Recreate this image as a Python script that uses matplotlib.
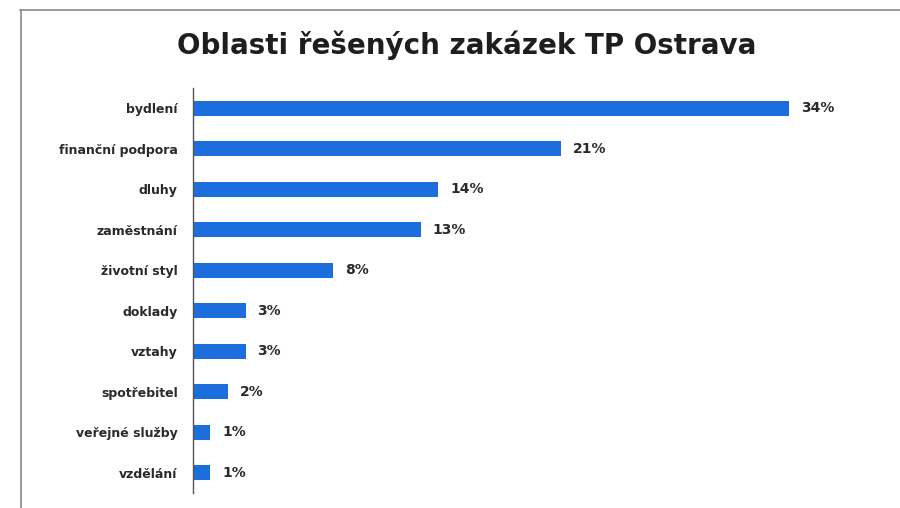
import matplotlib
matplotlib.use("Agg")
import matplotlib.pyplot as plt
from matplotlib.lines import Line2D

# data
categories = ['bydlení', 'finanční podpora', 'dluhy', 'zaměstnání', 'životní styl',
              'doklady', 'vztahy', 'spotřebitel', 'veřejné služby', 'vzdělání']
values = [34, 21, 14, 13, 8, 3, 3, 2, 1, 1]
value_labels = [f'{v}%' for v in values]

bar_color = '#1c6edc'
text_color = '#2a2a2a'

plt.rcParams['font.family'] = ['DejaVu Sans']

fig = plt.figure(figsize=(9, 5.08), dpi=100)
ax = fig.add_axes([0.2144, 0.0295, 0.74, 0.7975])

y = list(range(len(categories)))
ax.barh(y, values, height=0.37, color=bar_color)
ax.set_ylim(len(categories) - 0.5, -0.5)
ax.set_xlim(0, 38)

for yi, v, lab in zip(y, values, value_labels):
    ax.annotate(lab, (v, yi), xytext=(8.5, 0), textcoords='offset points',
                ha='left', va='center', fontsize=10, fontweight='bold',
                color=text_color)

ax.set_yticks(y)
ax.set_yticklabels(categories, fontsize=9, fontweight='bold', color=text_color)
ax.tick_params(axis='y', length=0, pad=11)
ax.set_xticks([])
for side in ['top', 'right', 'bottom']:
    ax.spines[side].set_visible(False)
ax.spines['left'].set_color('#555555')
ax.spines['left'].set_linewidth(1.0)

fig.text(0.519, 0.911, 'Oblasti řešených zakázek TP Ostrava', ha='center', va='center',
         fontsize=20, fontweight='bold', color='#1e1e1e')

# scanned frame around the chart (top and left edges)
fig.add_artist(Line2D([0.022, 1.0], [0.980, 0.980], color='#8a8a8a', lw=1.2,
                      transform=fig.transFigure))
fig.add_artist(Line2D([0.0235, 0.0235], [0.0, 0.980], color='#8a8a8a', lw=1.2,
                      transform=fig.transFigure))

fig.savefig('out.png', dpi=100, facecolor='white')
